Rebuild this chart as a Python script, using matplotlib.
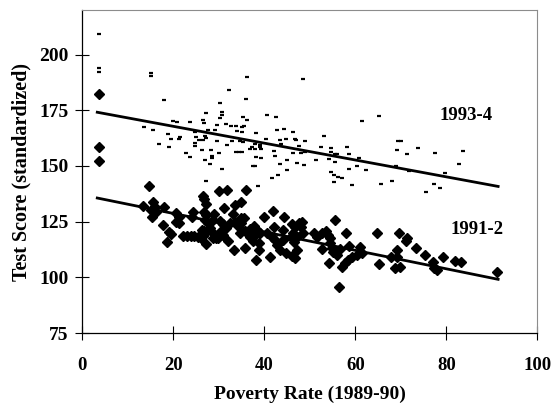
import matplotlib
matplotlib.use("Agg")
import matplotlib.pyplot as plt

plt.rcParams['font.family'] = ['Liberation Serif', 'DejaVu Serif']
plt.rcParams['font.weight'] = 'bold'

# 1993-4 scores (dash markers)
x_9394 = [3.7, 3.7, 3.7, 15.0, 15.0, 36.2, 48.6, 32.2, 18.0, 36.0, 30.3,
          27.2, 30.7, 30.7, 30.3, 35.3, 36.2, 40.7, 42.5,
          19.9, 20.8, 23.6, 26.5, 26.7,
          13.6, 15.6, 29.6, 31.6, 32.7, 33.8, 35.0, 35.5,
          24.7, 27.7, 29.2, 34.1, 35.0, 38.2, 42.9, 44.3, 46.3,
          18.9, 24.9, 27.0, 27.2, 21.5, 21.3, 19.5, 25.6, 26.5, 29.6, 33.0, 34.7,
          35.3, 40.3, 43.4, 44.7, 46.8, 47.0,
          16.9, 24.8, 24.7, 31.9, 38.0, 39.1, 43.6,
          19.0, 37.4, 26.3, 28.2, 38.0, 39.0, 39.3, 42.2, 33.7, 34.4, 35.0, 36.9,
          22.7, 30.0, 46.4, 23.7, 28.5, 28.6, 38.2, 39.3, 42.4, 26.9, 45.1,
          28.1, 43.4, 37.5, 38.0, 30.8, 44.9, 43.0, 41.6, 47.2,
          27.3, 38.7, 48.7, 51.4,
          61.5, 65.2, 48.9, 53.1, 47.6, 48.1, 48.9, 52.4, 54.7, 54.7, 55.6, 55.9,
          58.2, 58.6, 60.9, 54.2, 55.6, 60.4, 58.7, 62.4, 54.6, 55.4, 56.3, 57.1,
          69.5, 70.0, 69.2, 71.4, 73.7, 77.6, 68.9, 71.8, 79.7,
          83.7, 82.7, 77.4, 78.7, 75.5, 68.1, 65.7, 59.3, 55.4]
y_9394 = [209.2, 194.1, 192.3, 190.5, 191.5, 190.0, 188.8, 184.0, 179.5, 180.1, 178.2,
          173.8, 174.1, 172.9, 171.4, 171.9, 170.7, 172.9, 172.0,
          170.2, 169.9, 169.8, 170.5, 169.3,
          167.3, 166.0, 168.4, 169.0, 168.1, 168.0, 167.5, 168.1,
          165.1, 166.0, 166.0, 165.5, 165.1, 165.0, 166.0, 166.5, 165.1,
          164.4, 163.0, 163.6, 162.6, 163.0, 162.3, 162.1, 161.8, 161.5, 161.4, 161.0, 161.4,
          160.9, 162.1, 161.5, 161.9, 162.3, 161.5,
          159.7, 160.1, 158.8, 159.4, 160.0, 159.4, 159.9,
          158.5, 158.5, 157.2, 157.3, 157.6, 158.3, 157.6, 156.9, 156.4, 156.3, 156.3, 157.6,
          155.6, 155.6, 155.6, 154.0, 154.5, 153.4, 154.2, 153.4, 154.3, 152.8, 152.5,
          150.9, 151.0, 149.8, 150.1, 148.6, 148.2, 146.1, 144.4, 151.5,
          143.4, 141.1, 150.2, 152.7,
          170.2, 172.5, 161.4, 163.5, 159.1, 156.0, 156.3, 158.5, 158.1, 156.4, 155.5, 155.2,
          158.5, 155.4, 153.7, 152.9, 151.9, 150.1, 148.5, 148.3, 147.1, 146.1, 145.0, 144.4,
          161.4, 161.0, 157.3, 155.4, 157.9, 156.0, 150.0, 147.7, 146.8,
          156.7, 150.9, 142.0, 140.1, 138.5, 143.2, 142.0, 141.6, 142.6]

# 1991-2 scores (diamond markers)
x_9192 = [3.7, 3.7, 3.7,
          14.7, 13.3, 15.5, 15.9, 15.1, 16.2, 15.3, 18.0, 17.7, 19.1, 19.6, 18.7, 20.6, 21.3, 20.6, 21.2,
          22.2, 23.1, 23.8, 24.6, 25.4, 26.2, 26.6,
          24.4, 24.2, 26.5, 26.8, 27.3, 30.0, 31.9, 36.0,
          26.7, 27.3, 26.9, 27.7, 28.1, 28.8, 29.4, 30.6, 30.9,
          26.4, 26.8, 27.2, 27.1, 28.9, 28.8, 31.2, 33.2, 33.5, 34.9,
          30.3, 31.0, 31.5, 32.5, 33.6, 34.8, 35.5, 34.9, 34.3,
          30.6, 31.0, 29.8, 28.7, 32.1, 33.4, 35.8,
          34.7, 35.8, 36.9, 37.7, 38.5, 39.1, 37.8, 36.9,
          37.5, 38.8, 38.9, 38.2, 39.9, 42.0, 44.3, 41.3,
          40.7, 41.6, 42.4, 42.7, 43.5, 42.1, 44.2,
          44.7, 46.0, 46.7, 47.1, 47.6, 44.2, 45.8, 46.5,
          46.0, 46.7, 48.4, 48.1, 48.6, 46.4, 47.1,
          50.9, 51.5, 52.6, 53.6, 54.1, 54.4, 55.5, 52.7,
          54.4, 54.8, 55.2, 55.9, 56.6,
          54.3, 57.0, 57.7, 58.5, 59.2, 58.0,
          58.7, 60.3, 61.0, 61.4, 64.8, 65.3,
          67.8, 69.1, 69.2, 68.7, 69.8, 69.7, 71.4, 71.1,
          73.3, 75.3, 77.0, 77.3, 78.0, 79.3, 82.0, 83.3, 91.1, 56.5]
y_9192 = [182.5, 158.7, 152.2,
          141.2, 132.1, 133.8, 131.5, 130.3, 129.1, 127.3, 131.5, 123.6, 120.4, 119.5, 115.8, 128.8, 127.0, 125.0, 124.3,
          118.7, 118.7, 118.6, 118.5, 118.0, 117.6, 118.7,
          129.3, 127.3, 136.5, 135.3, 133.1, 138.7, 139.0, 139.0,
          129.5, 128.1, 125.8, 124.3, 122.1, 119.8, 117.6, 119.1, 121.3,
          121.2, 120.9, 120.3, 115.0, 128.2, 125.8, 131.3, 128.4, 132.4, 133.6,
          125.4, 123.9, 122.1, 124.3, 125.0, 126.8, 126.6, 124.6, 123.1,
          120.9, 119.1, 117.6, 117.6, 116.4, 112.3, 113.3,
          119.8, 121.0, 121.9, 123.2, 121.3, 120.1, 118.7, 118.3,
          116.4, 115.3, 112.3, 107.8, 127.3, 129.9, 127.3, 109.0,
          119.8, 118.3, 116.8, 114.6, 112.3, 122.5, 121.3,
          111.1, 109.6, 108.6, 112.3, 124.6, 116.8, 118.3, 116.0,
          124.0, 122.8, 125.0, 122.8, 119.8, 119.8, 118.3,
          119.8, 118.3, 120.1, 121.0, 119.1, 117.6, 125.8, 112.6,
          115.3, 113.1, 111.5, 110.1, 112.6,
          106.3, 104.8, 106.3, 107.8, 109.0, 120.1,
          114.1, 110.1, 113.5, 111.1, 120.1, 106.0,
          109.0, 109.3, 112.3, 104.1, 104.5, 119.8, 117.8, 116.5,
          113.3, 110.1, 107.0, 104.3, 103.3, 109.3, 107.4, 106.9, 102.4, 95.5]

# trend lines (end points)
trend_x = [3.3, 91.4]
trend_9394 = [174.1, 140.8]
trend_9192 = [135.6, 99.1]

fig = plt.figure(figsize=(5.52, 4.08), dpi=100)
ax = fig.add_axes([0.149, 0.1838, 0.8243, 0.7917])

ax.plot(x_9394, y_9394, linestyle='', marker='_', markersize=3.4, markeredgewidth=1.6, color='black')
ax.plot(x_9192, y_9192, linestyle='', marker='D', markersize=4.8, color='black')
ax.plot(trend_x, trend_9394, color='black', linewidth=2)
ax.plot(trend_x, trend_9192, color='black', linewidth=2)

ax.text(84.3, 172.8, '1993-4', ha='center', va='center', fontsize=13.5, fontweight='bold')
ax.text(86.7, 121.3, '1991-2', ha='center', va='center', fontsize=13.5, fontweight='bold')

ax.set_xlim(0, 100)
ax.set_ylim(75, 220)
ax.set_xticks(range(0, 101, 20))
ax.set_yticks(range(75, 201, 25))
ax.tick_params(direction='inout', length=10, width=0.8, colors='black')
ax.tick_params(axis='x', pad=12, labelsize=13.5)
ax.tick_params(axis='y', pad=5, labelsize=14)

for side in ['top', 'right']:
    ax.spines[side].set_color('#8c8c8c')
    ax.spines[side].set_linewidth(0.8)
for side in ['left', 'bottom']:
    ax.spines[side].set_color('black')
    ax.spines[side].set_linewidth(0.9)

ax.set_xlabel('Poverty Rate (1989-90)', fontsize=14, fontweight='bold')
ax.set_ylabel('Test Score (standardized)', fontsize=14.5, fontweight='bold')
ax.xaxis.set_label_coords(0.5, -0.162)
ax.yaxis.set_label_coords(-0.112, 0.5)

plt.savefig('out.png', dpi=100)
